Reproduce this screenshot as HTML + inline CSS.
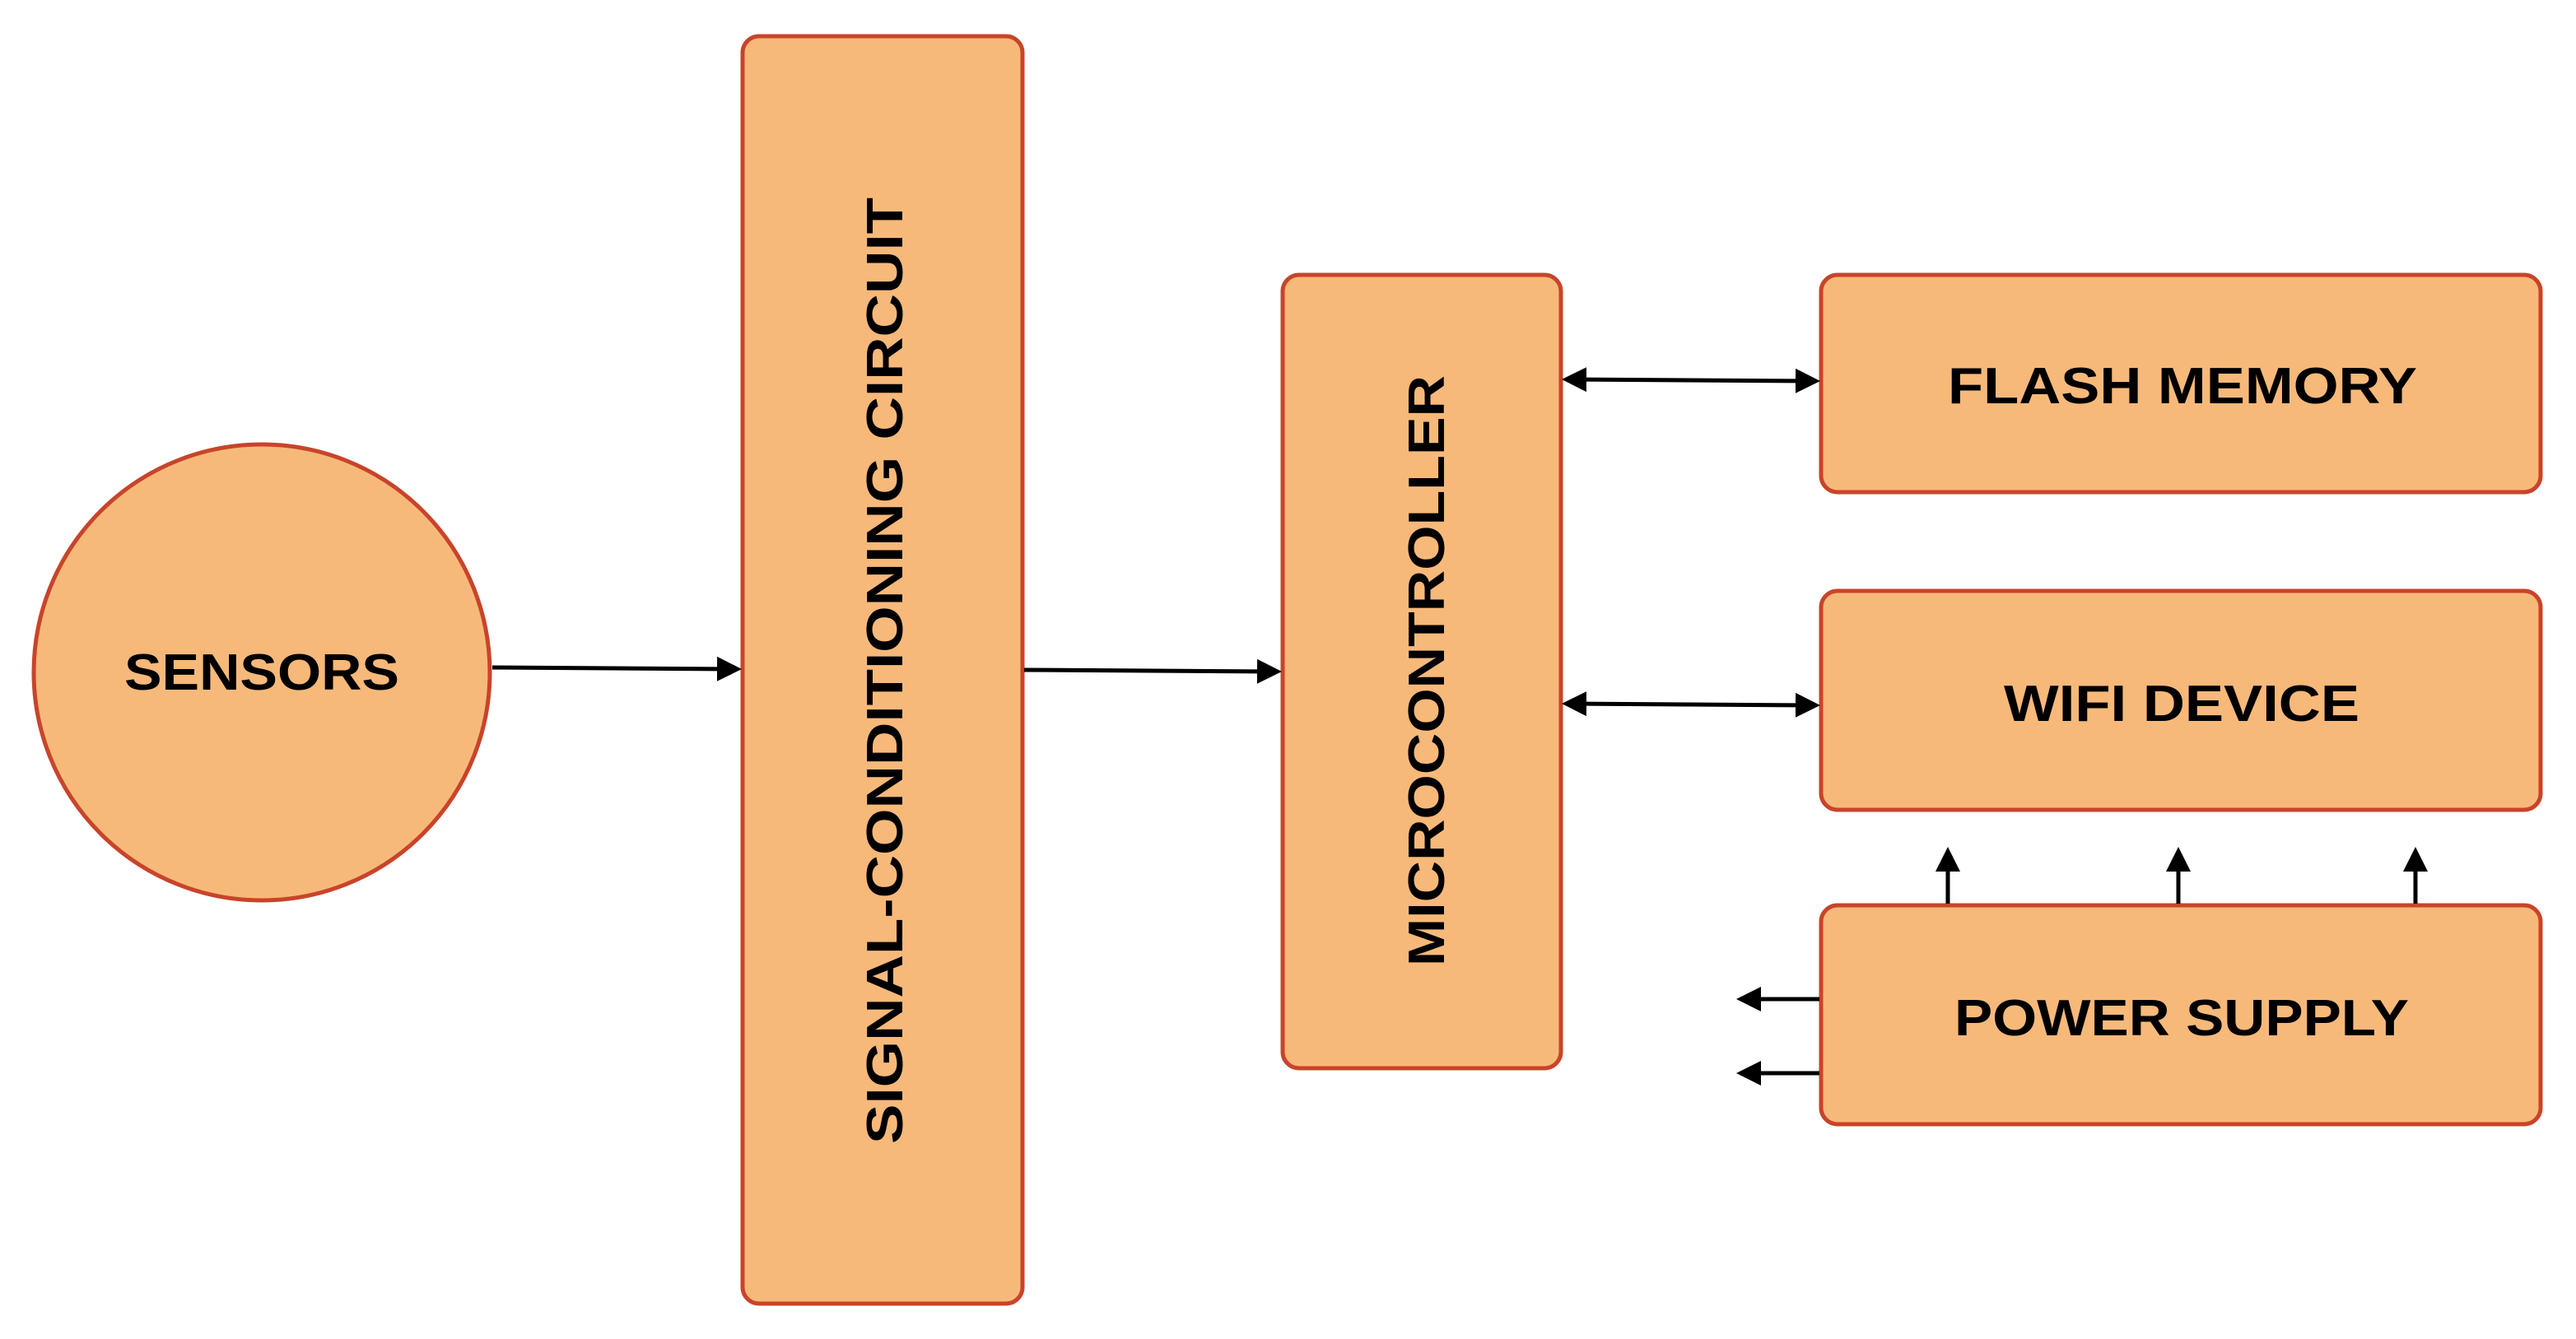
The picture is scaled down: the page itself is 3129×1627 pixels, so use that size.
<!DOCTYPE html>
<html><head><meta charset="utf-8"><style>html,body{margin:0;padding:0;background:#fff}svg{display:block}</style></head>
<body>
<svg width="3129" height="1627" viewBox="0 0 3129 1627" xmlns="http://www.w3.org/2000/svg">
<defs>
<marker id="a" markerWidth="6" markerHeight="6" refX="5" refY="3" orient="auto-start-reverse" markerUnits="strokeWidth"><path d="M0,0 L6,3 L0,6 z" fill="#000"/></marker>
</defs>
<g fill="#F7B97A" stroke="#C8442A" stroke-width="5">
<circle cx="318" cy="817" r="277"/>
<rect x="902" y="44" width="340" height="1540" rx="20"/>
<rect x="1558" y="334" width="338" height="964" rx="20"/>
<rect x="2212" y="334" width="874" height="264" rx="20"/>
<rect x="2212" y="718" width="874" height="266" rx="20"/>
<rect x="2212" y="1100" width="874" height="266" rx="20"/>
</g>
<g stroke="#000" stroke-width="5" fill="none">
<line x1="598" y1="811" x2="896" y2="813" marker-end="url(#a)"/>
<line x1="1244" y1="814" x2="1552" y2="816" marker-end="url(#a)"/>
<line x1="1902" y1="461" x2="2206" y2="463" marker-start="url(#a)" marker-end="url(#a)"/>
<line x1="1902" y1="855" x2="2206" y2="857" marker-start="url(#a)" marker-end="url(#a)"/>
<line x1="2366" y1="1098" x2="2366" y2="1034" marker-end="url(#a)"/>
<line x1="2646" y1="1098" x2="2646" y2="1034" marker-end="url(#a)"/>
<line x1="2934" y1="1098" x2="2934" y2="1034" marker-end="url(#a)"/>
<line x1="2210" y1="1214" x2="2114" y2="1214" marker-end="url(#a)"/>
<line x1="2210" y1="1304" x2="2114" y2="1304" marker-end="url(#a)"/>
</g>
<g font-family="Liberation Sans, sans-serif" font-weight="bold" fill="#000" font-size="62" text-anchor="middle">
<text x="318" y="838" textLength="334" lengthAdjust="spacingAndGlyphs">SENSORS</text>
<text transform="translate(1096,815) rotate(-90)" textLength="1150" lengthAdjust="spacingAndGlyphs">SIGNAL-CONDITIONING CIRCUIT</text>
<text transform="translate(1754,815) rotate(-90)" textLength="718" lengthAdjust="spacingAndGlyphs">MICROCONTROLLER</text>
<text x="2651" y="490" textLength="570" lengthAdjust="spacingAndGlyphs">FLASH MEMORY</text>
<text x="2650" y="876" textLength="432" lengthAdjust="spacingAndGlyphs">WIFI DEVICE</text>
<text x="2650" y="1258" textLength="552" lengthAdjust="spacingAndGlyphs">POWER SUPPLY</text>
</g>
</svg>
</body></html>
